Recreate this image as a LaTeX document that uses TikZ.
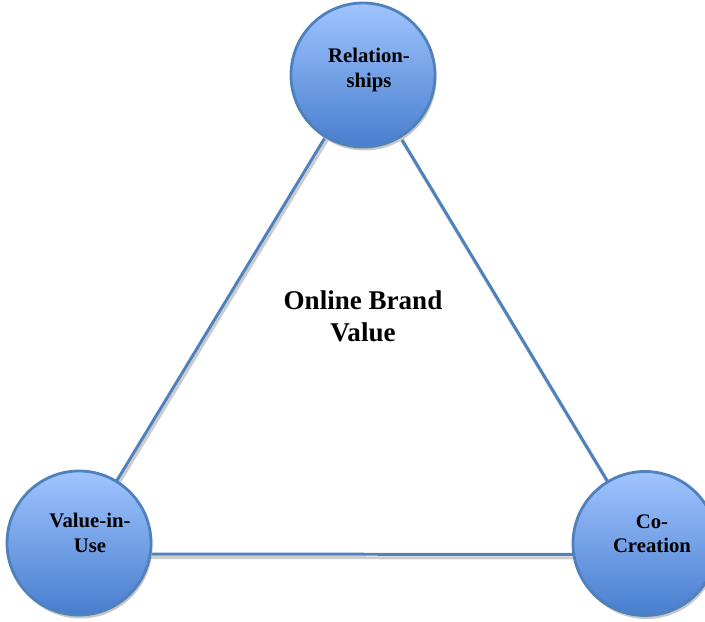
\documentclass[tikz,border=0pt]{standalone}
\usepackage{fontspec}
\setmainfont{Liberation Serif}
\usetikzlibrary{shadows,backgrounds}
\definecolor{ringblue}{RGB}{79,129,189}
\definecolor{balltop}{RGB}{160,196,255}
\definecolor{ballbot}{RGB}{72,126,206}
\tikzset{
  ball/.style={circle, draw=ringblue, line width=1.6pt, minimum size=2.88cm, inner sep=0pt,
    top color=balltop, bottom color=ballbot,
    drop shadow={shadow xshift=0.03cm, shadow yshift=-0.07cm, fill=black!22, opacity=1}},
  balltext/.style={font=\bfseries\fontsize{11.8}{13.9}\selectfont, align=center},
  side/.style={draw=ringblue, line width=1.7pt},
  sideshadow/.style={draw=black!20, line width=1.7pt}
}
\begin{document}
\begin{tikzpicture}
  \useasboundingbox (0,0) rectangle (14.1,12.44);
  % Les trois pôles
  \node[ball] (rel) at (7.26,10.94) {};
  \node[ball] (viu) at (1.58,1.58) {};
  \node[ball] (cc) at (12.9,1.57) {};
  \node[balltext] (reltxt) at ([shift={(0.12,0.1)}]rel.center) {Relation-\\ships};
  \node[balltext] (viutxt) at ([shift={(0.22,0.2)}]viu.center) {Value-in-\\Use};
  \node[balltext] (cctxt) at ([shift={(0.14,0.2)}]cc.center) {Co-\\Creation};
  % Centre
  \node[font=\bfseries\fontsize{15.4}{18.2}\selectfont, align=center] (obv) at (7.26,6.11) {Online Brand\\Value};
  % Côtés du triangle (avec ombre)
  \begin{scope}[on background layer]
    \draw[sideshadow] ([shift={(0.03,-0.07)}]rel.center) -- ([shift={(0.03,-0.07)}]viu.center);
    \draw[sideshadow] ([shift={(0.03,-0.07)}]rel.center) -- ([shift={(0.03,-0.07)}]cc.center);
    \draw[sideshadow] ([shift={(0.03,-0.29)}]viu.center) -- ([shift={(0.03,-0.29)}]cc.center);
    \draw[side] (rel.center) -- (viu.center);
    \draw[side] (rel.center) -- (cc.center);
    \draw[side] ([yshift=-0.22cm]viu.center) -- ([yshift=-0.22cm]cc.center);
  \end{scope}
\end{tikzpicture}
\end{document}
